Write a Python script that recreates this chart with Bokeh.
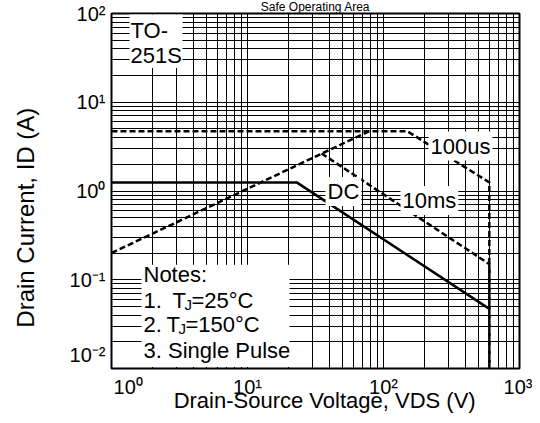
import math
from bokeh.plotting import figure
from bokeh.models import Label, BoxAnnotation, FixedTicker, Title
from bokeh.embed import file_html
from bokeh.resources import INLINE

# ---- data (V in volts, I in amperes) ----
dc_v = [1, 23, 600]
dc_i = [1.25, 1.25, 0.047]
rds_v = [1, 78]
rds_i = [0.2, 4.7]
ms10_v = [35, 600, 600]
ms10_i = [2.65, 0.15, 0.01]
us100_v = [1, 150, 600, 600]
us100_i = [4.7, 4.7, 1.25, 0.01]

x_ticks = [1, 10, 100, 1000]
x_tick_labels = ["\u00a0" * 6 + "10\u2070", "10\u00b9", "10\u00b2", "10\u00b3"]
y_ticks = [0.01, 0.1, 1, 10, 100]
y_tick_labels = ["10\u207b\u00b2\n\u00a0", "10\u207b\u00b9", "10\u2070", "10\u00b9", "10\u00b2"]

title_text = "Safe Operating Area"
x_title = "\u00a0" * 3 + "Drain-Source Voltage, VDS (V)"
y_title = "Drain Current, ID (A)" + "\u00a0" * 8

FONT = "Liberation Sans"
W, H = 532, 415
# frame edges in canvas pixels
IMG_L, IMG_R, IMG_T, IMG_B = 111, 519, 13, 372
BASE_FIX = 9  # label anchor correction (px)


def X(px):
    return 10 ** (3 * (px - IMG_L) / (IMG_R - IMG_L))


def Y(py):
    return 10 ** (2 - 4 * (py - IMG_T) / (IMG_B - IMG_T))


p = figure(width=W, height=H, x_axis_type="log", y_axis_type="log",
           x_range=(1, 1000), y_range=(0.01, 100),
           output_backend="svg", toolbar_location=None,
           min_border_left=IMG_L, min_border_right=W - IMG_R,
           min_border_top=IMG_T, min_border_bottom=H - IMG_B)
p.title.visible = False
p.add_layout(Title(text=title_text, text_font=FONT, text_font_size="12px",
                   text_font_style="normal", text_color="black", align="center",
                   vertical_align="top", standoff=-4), "above")
p.background_fill_color = "white"
p.border_fill_color = "white"
p.outline_line_color = "black"
p.outline_line_width = 2
p.outline_line_alpha = 1

minor_x = [k * 10 ** e for e in range(0, 3) for k in range(2, 10)]
minor_y = [k * 10.0 ** e for e in range(-2, 2) for k in range(2, 10)]
p.xaxis.ticker = FixedTicker(ticks=x_ticks, minor_ticks=minor_x)
p.yaxis.ticker = FixedTicker(ticks=y_ticks, minor_ticks=minor_y)
p.xaxis.major_label_overrides = {t: l for t, l in zip(x_ticks, x_tick_labels)}
p.yaxis.major_label_overrides = {t: l for t, l in zip(y_ticks, y_tick_labels)}

for ax in (p.xaxis, p.yaxis):
    ax.axis_line_color = None
    ax.major_tick_line_color = None
    ax.minor_tick_line_color = None
    ax.major_tick_out = 0
    ax.major_tick_in = 0
    ax.minor_tick_out = 0
    ax.minor_tick_in = 0
    ax.major_label_text_font = FONT
    ax.major_label_text_font_size = "20px"
    ax.major_label_text_color = "black"
    ax.axis_label_text_font = FONT
    ax.axis_label_text_font_style = "normal"
    ax.axis_label_text_color = "black"

p.xaxis.axis_label_text_font_size = "22px"
p.yaxis.axis_label_text_font_size = "24px"
p.xaxis.major_label_standoff = 7
p.xaxis.axis_label_standoff = -13
p.yaxis.major_label_standoff = 6
p.yaxis.axis_label_standoff = 28
p.xaxis.axis_label = x_title
p.yaxis.axis_label = y_title

for g in (p.xgrid, p.ygrid):
    g.grid_line_color = "black"
    g.grid_line_alpha = 1
    g.grid_line_width = 1
    g.minor_grid_line_color = "black"
    g.minor_grid_line_alpha = 1
    g.minor_grid_line_width = 1

# ---- curves ----
p.line(dc_v, dc_i, line_color="black", line_width=2.5)
p.line(rds_v, rds_i, line_color="black", line_width=2.5, line_dash="6 3")
p.line(ms10_v, ms10_i, line_color="black", line_width=2.5, line_dash="6 3")
p.line(us100_v, us100_i, line_color="black", line_width=2.5, line_dash="6 3")

# ---- white boxes ----
p.add_layout(BoxAnnotation(left=X(129), right=X(182), bottom=Y(68), top=Y(14),
                           fill_color="white", fill_alpha=1, line_color=None))
p.add_layout(BoxAnnotation(left=X(141), right=X(289), bottom=Y(370.5), top=Y(267),
                           fill_color="white", fill_alpha=1, line_color=None))


def lab(text, px, py, size=22, bg=False):
    kw = {}
    if bg:
        kw = dict(background_fill_color="white", background_fill_alpha=1, padding=2)
    p.add_layout(Label(x=X(px), y=Y(py - BASE_FIX), text=text, text_font=FONT,
                       text_font_size=f"{size}px", text_color="black",
                       text_align="left", text_baseline="alphabetic", **kw))


# package box
lab("TO-", 130, 39)
lab("251S", 130, 64)

# curve labels
lab("100us", 428, 156, bg=True)
lab("10ms", 400, 211, bg=True)
lab("DC", 325, 202, bg=True)

# notes
lab("Notes:", 143, 286)
lab("1.", 143, 312)
lab("T", 172, 312)
lab("J", 184, 316, size=15)
lab("=25\u00b0C", 191, 312)
lab("2.", 143, 337)
lab("T", 166, 337)
lab("J", 178, 341, size=15)
lab("=150\u00b0C", 185, 337)
lab("3. Single Pulse", 143, 363)

open("out.html", "w").write(file_html(p, INLINE))
